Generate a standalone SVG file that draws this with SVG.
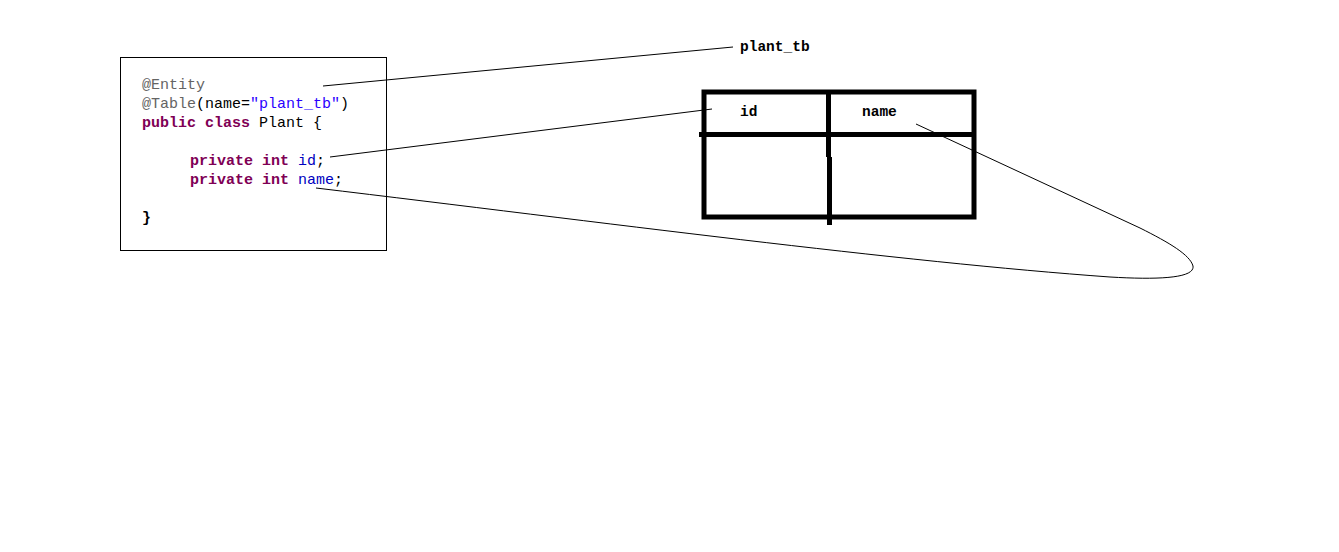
<svg xmlns="http://www.w3.org/2000/svg" width="1339" height="552" viewBox="0 0 1339 552">
<style>
.code{font-family:"Liberation Mono","DejaVu Sans Mono",monospace;font-size:15px;fill:#000}
.ann{fill:#646464}
.str{fill:#2a00ff}
.kw{fill:#7f0055;font-weight:bold}
.fld{fill:#0000c0}
.b{font-weight:bold}
.lbl{font-family:"Liberation Mono","DejaVu Sans Mono",monospace;font-size:14.5px;font-weight:bold;fill:#000}
.thin{fill:none;stroke:#000;stroke-width:1}
.thick{fill:none;stroke:#000;stroke-width:5}
</style>
<rect width="1339" height="552" fill="#fff"/>
<g id="code-box">
<rect x="120.5" y="57.5" width="266" height="193" fill="#fff" stroke="#000" stroke-width="1"/>
<text class="code" x="142" y="89"><tspan class="ann">@Entity</tspan></text>
<text class="code" x="142" y="108"><tspan class="ann">@Table</tspan>(name=<tspan class="str">"plant_tb"</tspan>)</text>
<text class="code" x="142" y="127"><tspan class="kw">public class</tspan> Plant {</text>
<text class="code" x="190" y="165"><tspan class="kw">private int</tspan> <tspan class="fld">id</tspan>;</text>
<text class="code" x="190" y="184"><tspan class="kw">private int</tspan> <tspan class="fld">name</tspan>;</text>
<text class="code b" x="142" y="222">}</text>
</g>
<g id="table-label">
<text class="lbl" x="740" y="51">plant_tb</text>
</g>
<g id="table">
<rect class="thick" x="704" y="92" width="270" height="125"/>
<line class="thick" x1="699" y1="134.5" x2="974" y2="134.5"/>
<line class="thick" x1="828.5" y1="92" x2="828.5" y2="157"/>
<line class="thick" x1="829.5" y1="157" x2="829.5" y2="225"/>
<text class="lbl" x="740" y="116">id</text>
<text class="lbl" x="862" y="116">name</text>
</g>
<g id="connectors">
<line class="thin" x1="323" y1="86" x2="733" y2="47"/>
<line class="thin" x1="330" y1="157" x2="712" y2="109"/>
<path class="thin" d="M316,188 C600,222 900,262 1110,277 C1160,280 1195,278 1193,266 C1190,255 1170,243 1140,228 L916,124"/>
</g>
</svg>
